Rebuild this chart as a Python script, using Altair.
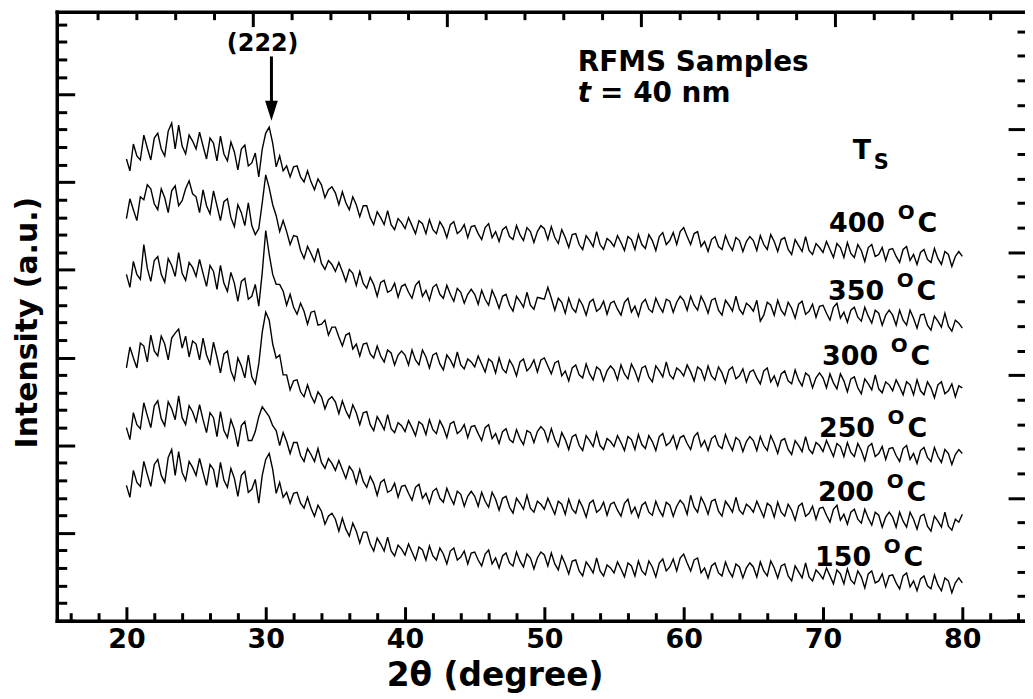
import altair as alt
import pandas as pd

# ------------------------------------------------------------------ data
x_start = 20.0
x_step = 0.25
temps = ["400", "350", "300", "250", "200", "150"]
stack_offsets = [328, 270, 200, 130, 60, 0]

raw_400 = [
    136, 124, 151, 139, 135, 160, 147, 135, 157, 162, 146, 139, 164, 172, 146, 170, 149, 141, 160, 154,
    146, 163, 149, 136, 157, 152, 134, 159, 141, 134, 153, 143, 125, 146, 150, 129, 132, 142, 118, 146,
    162, 168, 152, 128, 139, 124, 129, 118, 128, 129, 118, 113, 124, 113, 105, 116, 110, 97, 105, 108,
    102, 90, 103, 92, 85, 98, 90, 78, 89, 89, 77, 70, 83, 77, 70, 84, 70, 65, 76, 72,
    66, 77, 69, 61, 74, 71, 61, 75, 65, 61, 73, 67, 57, 70, 73, 61, 64, 70, 57, 68,
    69, 61, 55, 67, 71, 57, 63, 53, 65, 68, 58, 55, 69, 60, 54, 67, 63, 52, 63, 69,
    66, 55, 68, 57, 51, 65, 57, 47, 60, 61, 50, 45, 59, 54, 48, 63, 50, 45, 56, 53,
    48, 59, 52, 44, 58, 55, 45, 60, 50, 46, 60, 54, 44, 58, 62, 50, 54, 62, 50, 63,
    67, 58, 50, 61, 63, 48, 53, 43, 55, 58, 48, 45, 59, 50, 44, 57, 54, 43, 53, 58,
    54, 44, 59, 50, 45, 60, 53, 43, 55, 57, 45, 40, 55, 49, 43, 58, 44, 40, 51, 47,
    42, 53, 45, 37, 51, 47, 37, 52, 41, 37, 50, 44, 33, 47, 50, 38, 40, 47, 34, 45,
    46, 38, 32, 45, 48, 34, 40, 30, 42, 45, 35, 32, 46, 36, 30, 43, 40, 28, 38, 43,
    38,
]
raw_350 = [
    134, 154, 143, 132, 156, 153, 168, 164, 149, 143, 164, 155, 140, 162, 167, 147, 152, 164, 172, 159,
    156, 140, 163, 147, 139, 162, 147, 132, 151, 154, 135, 126, 148, 140, 127, 150, 127, 118, 124, 150,
    178, 165, 148, 137, 121, 132, 121, 108, 117, 116, 102, 94, 106, 99, 91, 104, 89, 83, 92, 88,
    81, 90, 81, 71, 83, 79, 67, 81, 69, 64, 75, 68, 56, 70, 72, 60, 62, 69, 55, 66,
    68, 60, 54, 67, 71, 56, 62, 52, 65, 68, 58, 54, 67, 58, 51, 64, 60, 49, 58, 63,
    58, 48, 62, 53, 47, 62, 54, 44, 56, 58, 47, 41, 56, 51, 45, 60, 47, 43, 55, 54,
    53, 65, 54, 42, 54, 50, 39, 54, 44, 40, 53, 47, 37, 50, 53, 41, 44, 51, 38, 49,
    51, 43, 37, 50, 54, 40, 46, 36, 49, 53, 43, 40, 54, 46, 40, 53, 51, 40, 50, 56,
    52, 42, 56, 47, 42, 56, 49, 39, 52, 54, 42, 37, 52, 47, 41, 56, 43, 38, 49, 46,
    41, 52, 31, 37, 50, 47, 37, 52, 42, 37, 50, 44, 34, 48, 51, 38, 41, 48, 35, 46,
    47, 39, 32, 45, 49, 34, 40, 30, 42, 45, 35, 31, 45, 36, 29, 42, 39, 27, 37, 42,
    37, 27, 42, 32, 27, 42, 34, 24, 37, 38, 27, 22, 36, 31, 25, 39, 26, 21, 32, 29,
    24,
]
raw_300 = [
    148, 135, 161, 148, 143, 178, 154, 141, 162, 166, 148, 140, 164, 157, 146, 170, 149, 142, 160, 155,
    146, 163, 149, 136, 157, 151, 133, 157, 139, 131, 150, 139, 121, 141, 144, 123, 126, 138, 116, 150,
    192, 168, 148, 138, 138, 131, 117, 128, 115, 108, 119, 111, 98, 110, 111, 97, 98, 102, 87, 95,
    95, 85, 76, 87, 89, 73, 78, 66, 78, 79, 68, 64, 76, 66, 60, 72, 69, 57, 67, 71,
    67, 57, 72, 62, 57, 72, 65, 54, 67, 69, 58, 52, 67, 62, 55, 70, 57, 53, 63, 60,
    55, 66, 58, 50, 63, 60, 49, 64, 53, 49, 62, 56, 46, 60, 63, 51, 55, 62, 50, 62,
    64, 56, 48, 59, 61, 46, 51, 41, 54, 57, 47, 44, 58, 48, 42, 55, 52, 41, 51, 56,
    52, 42, 57, 48, 43, 58, 51, 41, 54, 56, 45, 40, 56, 51, 45, 60, 47, 43, 54, 51,
    46, 57, 50, 41, 55, 52, 42, 56, 46, 42, 55, 49, 39, 52, 55, 43, 46, 53, 40, 50,
    52, 44, 38, 51, 54, 40, 46, 36, 48, 51, 41, 38, 52, 42, 36, 49, 46, 34, 44, 49,
    44, 34, 48, 39, 33, 48, 41, 30, 43, 45, 34, 28, 43, 38, 32, 47, 33, 29, 40, 37,
    31, 42, 35, 27, 40, 37, 27, 42, 31, 27, 40, 34, 24, 37, 40, 28, 31, 38, 25, 36,
    34,
]
raw_250 = [
    124, 145, 134, 124, 149, 146, 130, 157, 141, 136, 156, 148, 132, 154, 159, 163, 144, 156, 135, 151,
    148, 132, 154, 137, 128, 150, 135, 119, 138, 141, 121, 112, 134, 126, 114, 137, 115, 108, 128, 160,
    180, 172, 148, 134, 137, 117, 117, 102, 111, 112, 100, 95, 107, 96, 89, 100, 95, 83, 92, 95,
    90, 78, 91, 81, 74, 87, 79, 67, 79, 80, 67, 61, 75, 69, 62, 77, 63, 59, 69, 66,
    60, 71, 64, 56, 70, 67, 57, 72, 62, 58, 71, 64, 54, 68, 70, 58, 61, 67, 54, 65,
    66, 58, 51, 64, 67, 53, 58, 48, 60, 63, 52, 49, 62, 53, 47, 61, 59, 49, 60, 65,
    61, 50, 63, 52, 45, 59, 52, 42, 55, 57, 46, 41, 56, 51, 45, 59, 46, 42, 53, 50,
    45, 56, 49, 41, 55, 52, 42, 57, 47, 43, 56, 50, 41, 55, 58, 46, 49, 56, 43, 54,
    56, 48, 42, 55, 59, 45, 51, 41, 53, 56, 46, 43, 57, 48, 41, 54, 51, 40, 50, 55,
    51, 41, 55, 46, 41, 56, 48, 38, 51, 53, 42, 37, 51, 46, 40, 55, 42, 38, 49, 46,
    40, 51, 43, 35, 48, 45, 35, 49, 39, 35, 48, 41, 31, 45, 48, 35, 38, 45, 32, 43,
    44, 36, 30, 43, 46, 32, 38, 28, 41, 44, 34, 30, 44, 35, 29, 42, 38, 27, 37, 42,
    38,
]
raw_200 = [
    134, 122, 149, 137, 133, 159, 146, 134, 156, 161, 143, 136, 160, 153, 142, 166, 144, 137, 156, 150,
    140, 157, 142, 129, 149, 144, 125, 150, 131, 124, 142, 132, 115, 136, 140, 121, 121, 130, 145, 155,
    150, 145, 136, 131, 116, 129, 120, 108, 119, 119, 106, 100, 113, 107, 100, 113, 99, 93, 103, 98,
    91, 101, 92, 83, 95, 90, 78, 92, 80, 74, 85, 78, 66, 79, 82, 69, 71, 78, 64, 75,
    76, 68, 61, 74, 77, 63, 68, 58, 70, 73, 63, 59, 73, 64, 57, 70, 67, 55, 65, 70,
    65, 55, 69, 60, 54, 69, 62, 51, 63, 65, 54, 48, 63, 58, 52, 66, 53, 49, 60, 57,
    52, 63, 55, 47, 60, 57, 47, 62, 52, 48, 61, 54, 44, 58, 61, 49, 52, 59, 46, 57,
    59, 51, 45, 58, 62, 48, 54, 44, 56, 59, 49, 46, 60, 51, 45, 59, 56, 45, 55, 61,
    57, 47, 66, 54, 49, 64, 57, 47, 60, 62, 50, 45, 60, 55, 49, 64, 51, 47, 57, 54,
    49, 60, 52, 44, 58, 55, 44, 59, 49, 45, 57, 51, 41, 55, 58, 45, 48, 55, 42, 53,
    54, 46, 39, 52, 56, 41, 47, 37, 49, 52, 42, 38, 52, 43, 36, 49, 46, 34, 44, 49,
    44, 34, 49, 40, 34, 49, 42, 32, 45, 47, 35, 30, 45, 40, 34, 49, 35, 31, 42, 39,
    47,
]
raw_150 = [
    136, 124, 151, 139, 135, 160, 147, 135, 157, 162, 146, 139, 164, 172, 146, 170, 149, 141, 160, 154,
    146, 163, 149, 136, 157, 152, 134, 159, 141, 134, 153, 143, 125, 146, 150, 129, 132, 142, 118, 146,
    162, 168, 152, 128, 139, 124, 129, 118, 128, 129, 118, 113, 124, 113, 105, 116, 110, 97, 105, 108,
    102, 90, 103, 92, 85, 98, 90, 78, 89, 89, 77, 70, 83, 77, 70, 84, 70, 65, 76, 72,
    66, 77, 69, 61, 74, 71, 61, 75, 65, 61, 73, 67, 57, 70, 73, 61, 64, 70, 57, 68,
    69, 61, 55, 67, 71, 57, 63, 53, 65, 68, 58, 55, 69, 60, 54, 67, 63, 52, 63, 69,
    66, 55, 68, 57, 51, 65, 57, 47, 60, 61, 50, 45, 59, 54, 48, 63, 50, 45, 56, 53,
    48, 59, 52, 44, 58, 55, 45, 60, 50, 46, 60, 54, 44, 58, 62, 50, 54, 62, 50, 63,
    67, 58, 50, 61, 63, 48, 53, 43, 55, 58, 48, 45, 59, 50, 44, 57, 54, 43, 53, 58,
    54, 44, 59, 50, 45, 60, 53, 43, 55, 57, 45, 40, 55, 49, 43, 58, 44, 40, 51, 47,
    42, 53, 45, 37, 51, 47, 37, 52, 41, 37, 50, 44, 33, 47, 50, 38, 40, 47, 34, 45,
    46, 38, 32, 45, 48, 34, 40, 30, 42, 45, 35, 32, 46, 36, 30, 43, 40, 28, 38, 43,
    38,
]
raw_series = [raw_400, raw_350, raw_300, raw_250, raw_200, raw_150]

# tick values (axis decoration)
x_major = [20, 30, 40, 50, 60, 70, 80]
x_minor = [v for v in range(16, 85, 2) if v % 10 != 0]
y_span = 617.0                       # full frame height in data units
left_step = y_span / 35              # left axis: 7 majors, 5 minors each
right_step = y_span / 25             # right axis: 5 majors, 5 minors each
top_first, top_step = 17.93, 2.7857  # top axis tick spacing (degrees)

# annotation texts
ann_text = ["(222)", "RFMS Samples", "= 40 nm", "T"]
ann_x = [27.21, 52.4, 54.0, 72.14]
ann_y = [572, 552, 521, 464]
ann_size = [24, 28, 28, 27]
italic_text, italic_x, italic_y = ["t"], [52.4], [521]
sub_text, sub_x, sub_y = ["S"], [73.64], [454]
label_x = [70.43, 70.36, 69.93, 69.71, 69.64, 69.43]
label_y = [391, 322, 257, 185, 120, 55]
arrow_x, arrow_top, arrow_bottom, arrow_head = [30.41], [567], [518], [512.5]

# ------------------------------------------------------------------ frames
rows = []
for t, off, vals in zip(temps, stack_offsets, raw_series):
    for i, v in enumerate(vals):
        rows.append({"x": x_start + i * x_step, "y": v + off, "T": t})
df = pd.DataFrame(rows)

ann_df = pd.DataFrame({"text": ann_text, "x": ann_x, "y": ann_y, "size": ann_size})
ital_df = pd.DataFrame({"text": italic_text, "x": italic_x, "y": italic_y})
sub_df = pd.DataFrame({"text": sub_text, "x": sub_x, "y": sub_y})
lab_df = pd.DataFrame({"text": temps, "x": label_x, "y": label_y})
arrow_df = pd.DataFrame({"x": arrow_x, "y": arrow_top, "y2": arrow_bottom, "yh": arrow_head})

# ------------------------------------------------------------------ chart
FONT = "DejaVu Sans"
W, H = 973, 612
xs = alt.Scale(domain=[15, 84.5], nice=False, zero=False)
ys = alt.Scale(domain=[0, 612], nice=False, zero=False)

left_major = [k * left_step for k in range(0, 36, 5) if k * left_step <= 612]
left_minor = [k * left_step for k in range(36) if k % 5 and k * left_step <= 612]
right_major = [k * right_step for k in range(0, 25, 5)]
right_minor = [k * right_step for k in range(25) if k % 5]
top_major = [top_first + k * top_step for k in range(24) if k % 5 == 4]
top_minor = [top_first + k * top_step for k in range(24) if k % 5 != 4]


def tick_axis(orient, offset, values, size, domain=False):
    return alt.Axis(orient=orient, offset=offset, values=values, tickSize=size,
                    tickWidth=3, tickColor="black", labels=False, domain=domain,
                    domainColor="black", domainWidth=3.5, domainCap="square",
                    grid=False)


lines = alt.Chart(df).mark_line(color="black", strokeWidth=1.4).encode(
    x=alt.X("x:Q", scale=xs, title="2θ (degree)",
            axis=alt.Axis(orient="bottom", values=x_major, ticks=False, tickSize=0,
                          domain=True, domainColor="black", domainWidth=3.5,
                          domainCap="square", grid=False,
                          labelFont=FONT, labelFontWeight="bold", labelFontSize=27,
                          labelColor="black", labelPadding=6,
                          titleFont=FONT, titleFontWeight="bold", titleFontSize=33,
                          titleColor="black", titleX=440, titleY=65,
                          titleAlign="center", titleBaseline="alphabetic")),
    y=alt.Y("y:Q", scale=ys, title="Intensity (a.u.)",
            axis=alt.Axis(orient="left", ticks=False, tickSize=0, labels=False,
                          domain=True, domainColor="black", domainWidth=3.5,
                          domainCap="square", grid=False,
                          titleFont=FONT, titleFontWeight="bold", titleFontSize=30,
                          titleColor="black", titleX=-20, titleY=312,
                          titleAlign="center", titleBaseline="alphabetic")),
    detail="T:N",
)


def carrier(xaxis, yaxis):
    return alt.Chart(df).mark_point(opacity=0).encode(
        x=alt.X("x:Q", scale=xs, title=None, axis=xaxis),
        y=alt.Y("y:Q", scale=ys, title=None, axis=yaxis),
    )


c1 = carrier(tick_axis("top", -H, x_major, 14), tick_axis("right", -W, left_major, 18))
c2 = carrier(tick_axis("top", -H, x_minor, 8), tick_axis("right", -W, left_minor, 10))
c3 = carrier(tick_axis("bottom", -H, top_major, 15, domain=True),
             tick_axis("left", -W, right_major, 17))
c4 = carrier(tick_axis("bottom", -H, top_minor, 8), tick_axis("left", -W, right_minor, 8))

XP = alt.X("x:Q", scale=xs, axis=None)
YP = alt.Y("y:Q", scale=ys, axis=None)
txt = dict(font=FONT, fontWeight="bold", align="left", baseline="alphabetic", color="black")

ann = alt.Chart(ann_df).mark_text(**txt).encode(
    x=XP, y=YP, text="text:N", size=alt.Size("size:Q", scale=None))
ital = alt.Chart(ital_df).mark_text(fontStyle="italic", fontSize=28, **txt).encode(
    x=XP, y=YP, text="text:N")
sub = alt.Chart(sub_df).mark_text(fontSize=21, **txt).encode(x=XP, y=YP, text="text:N")
lab_num = alt.Chart(lab_df).mark_text(fontSize=27, **txt).encode(x=XP, y=YP, text="text:N")
lab_o = alt.Chart(lab_df).mark_text(text="O", fontSize=20, dx=69, dy=-13, **txt).encode(x=XP, y=YP)
lab_c = alt.Chart(lab_df).mark_text(text="C", fontSize=27, dx=89, **txt).encode(x=XP, y=YP)

shaft = alt.Chart(arrow_df).mark_rule(color="black", strokeWidth=3).encode(
    x=XP, y=YP, y2="y2:Q")
head = alt.Chart(arrow_df).mark_point(shape="M-0.64,-1L0.64,-1L0,1Z", size=400,
                                      filled=True, color="black", opacity=1,
                                      strokeWidth=0).encode(
    x=XP, y=alt.Y("yh:Q", scale=ys, axis=None))

chart = alt.layer(lines, c1, c2, c3, c4, ann, ital, sub, lab_num, lab_o, lab_c, shaft, head
                  ).resolve_axis(x="independent", y="independent").properties(
    width=W, height=H,
    autosize=alt.AutoSizeParams(type="none"),
    padding={"left": 49, "top": 2, "right": 0, "bottom": 75},
    background="white",
).configure_view(strokeWidth=0)

chart.save("out.html", embed_options={"renderer": "svg", "actions": False})
